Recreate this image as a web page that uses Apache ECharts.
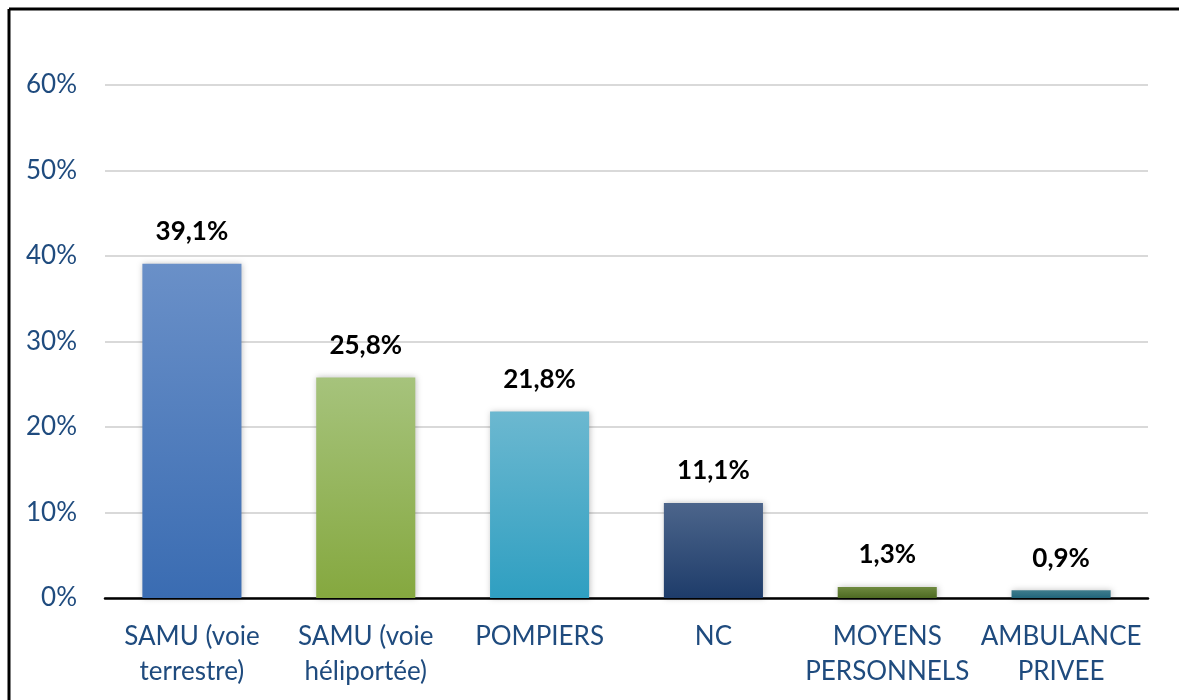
<!DOCTYPE html>
<html>
<head>
<meta charset="utf-8">
<script src="https://cdn.jsdelivr.net/npm/echarts@6/dist/echarts.min.js"></script>
<style>
  html, body { margin: 0; padding: 0; background: #fff; }
  #main { width: 1179px; height: 700px; }
</style>
</head>
<body>
<div id="main"></div>
<script>
// categories and values (percent)
var categories = ['SAMU (voie\nterrestre)', 'SAMU (voie\nhéliportée)', 'POMPIERS', 'NC', 'MOYENS\nPERSONNELS', 'AMBULANCE\nPRIVEE'];
var values = [39.1, 25.8, 21.8, 11.1, 1.3, 0.9];
// bar colours, top -> bottom
var topColors = ['#6a90c8', '#a6c37c', '#6cb8d0', '#4c658b', '#6f8a40', '#3f7d8d'];
var bottomColors = ['#3a6cb2', '#85a83f', '#2f9fc1', '#1e3c6a', '#4d6a22', '#22667b'];

var myChart = echarts.init(document.getElementById('main'));

var data = values.map(function (v, i) {
  return {
    value: v,
    itemStyle: {
      color: new echarts.graphic.LinearGradient(0, 0, 0, 1, [
        { offset: 0, color: topColors[i] },
        { offset: 1, color: bottomColors[i] }
      ])
    }
  };
});

var option = {
  backgroundColor: '#fff',
  animation: false,
  grid: { left: 105, right: 31, top: 85, bottom: 102 },
  // cadre noir (gauche + haut)
  graphic: [
    { type: 'line', shape: { x1: 9, y1: 9, x2: 1179, y2: 9 }, style: { stroke: '#000', lineWidth: 3 } },
    { type: 'line', shape: { x1: 9, y1: 9, x2: 9, y2: 700 }, style: { stroke: '#000', lineWidth: 3 } }
  ],
  xAxis: {
    type: 'category',
    data: categories,
    axisLine: { lineStyle: { color: '#000', width: 2.5 } },
    axisTick: { show: false },
    axisLabel: {
      color: '#1f4b7e',
      fontFamily: 'Lato',
      fontSize: 26,
      lineHeight: 35,
      margin: 21,
      interval: 0
    }
  },
  yAxis: {
    type: 'value',
    min: 0,
    max: 60,
    interval: 10,
    axisLine: { show: false },
    axisTick: { show: false },
    splitLine: { lineStyle: { color: '#d9d9d9', width: 2 } },
    axisLabel: {
      color: '#1f4b7e',
      fontFamily: 'Lato',
      fontSize: 26,
      margin: 28,
      formatter: '{value}%'
    }
  },
  series: [{
    type: 'bar',
    data: data,
    barWidth: '57%',
    itemStyle: {
      shadowBlur: 6,
      shadowColor: 'rgba(0,0,0,0.25)',
      shadowOffsetX: 1
    },
    label: {
      show: true,
      position: 'top',
      distance: 19,
      color: '#000',
      fontFamily: 'Lato',
      fontWeight: 'bold',
      fontSize: 26,
      formatter: function (p) {
        return p.value.toFixed(1).replace('.', ',') + '%';
      }
    }
  }]
};

myChart.setOption(option);
</script>
</body>
</html>
